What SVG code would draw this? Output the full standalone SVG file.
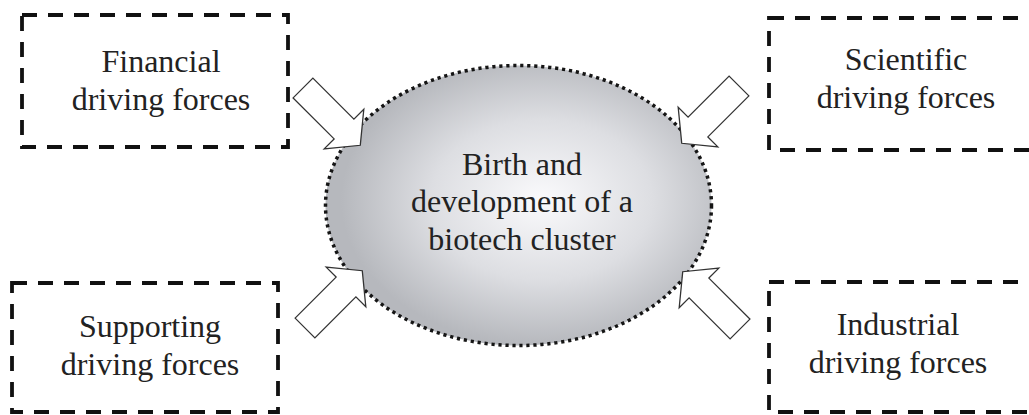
<svg xmlns="http://www.w3.org/2000/svg" width="1029" height="415" viewBox="0 0 1029 415">
<style>
.box{fill:none;stroke:#111;stroke-width:3.8;stroke-dasharray:15 11}
.lbl{font-family:"Liberation Serif","Times New Roman",serif;font-size:32px;fill:#222;text-anchor:middle}
.arr{fill:#fff;stroke:#333;stroke-width:1.3;stroke-linejoin:miter}
</style>
<defs>
<radialGradient id="g" cx="0.56" cy="0.48" r="0.52">
<stop offset="0" stop-color="#fafafc"/>
<stop offset="0.55" stop-color="#dddee2"/>
<stop offset="1" stop-color="#b6b8bd"/>
</radialGradient>
<polygon id="arrow" class="arr" points="0,-14 58,-14 58,-28 81,0 58,28 58,14 0,14"/>
</defs>
<rect width="1029" height="415" fill="#fff"/>
<g id="cluster">
<ellipse cx="518.5" cy="205.5" rx="193" ry="140" fill="url(#g)" stroke="#151515" stroke-width="3.5" stroke-dasharray="3.2 3.8"/>
<text class="lbl" x="522" y="175">Birth and</text>
<text class="lbl" x="522" y="212">development of a</text>
<text class="lbl" x="522" y="250">biotech cluster</text>
</g>
<g id="connectors">
<use href="#arrow" transform="translate(303,88) rotate(45)"/>
<use href="#arrow" transform="translate(739,86) rotate(135)"/>
<use href="#arrow" transform="translate(305,328) rotate(-45)"/>
<use href="#arrow" transform="translate(740,329) rotate(-135)"/>
</g>
<g id="financial">
<rect class="box" x="22" y="15" width="266" height="132"/>
<text class="lbl" x="161" y="72">Financial</text>
<text class="lbl" x="161" y="110">driving forces</text>
</g>
<g id="scientific">
<rect class="box" x="769" y="18" width="272" height="132"/>
<text class="lbl" x="906" y="70">Scientific</text>
<text class="lbl" x="906" y="108">driving forces</text>
</g>
<g id="supporting">
<rect class="box" x="12" y="283" width="266" height="129"/>
<text class="lbl" x="150" y="337">Supporting</text>
<text class="lbl" x="150" y="375">driving forces</text>
</g>
<g id="industrial">
<rect class="box" x="769" y="282" width="272" height="130"/>
<text class="lbl" x="898" y="335">Industrial</text>
<text class="lbl" x="898" y="373">driving forces</text>
</g>
</svg>
